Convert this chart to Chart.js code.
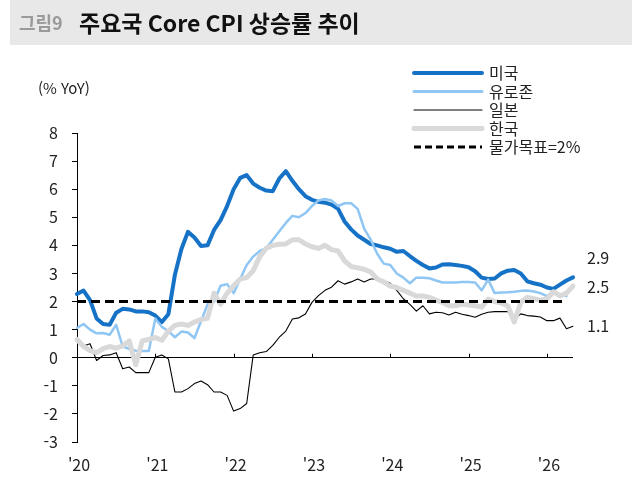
<!DOCTYPE html>
<html lang="ko">
<head>
<meta charset="utf-8">
<script src="https://cdn.jsdelivr.net/npm/chart.js@4"></script>
<style>
  body { margin: 0; background: #fff; }
  #wrap { position: relative; width: 632px; height: 481px; }
</style>
</head>
<body>
<div id="wrap"><canvas id="grafico" width="632" height="481"></canvas></div>
<script>
// 월별 Core CPI (% YoY), 2020-01 부터
const anos = [2020, 2021, 2022, 2023, 2024, 2025, 2026];
const rotulosAno = ["'20", "'21", "'22", "'23", "'24", "'25", "'26"];

const eua = [2.27, 2.39, 2.05, 1.4, 1.2, 1.17, 1.6, 1.74, 1.72, 1.65,
             1.65, 1.62, 1.5, 1.27, 1.55, 2.95, 3.87, 4.48, 4.28, 3.98,
             4.0, 4.55, 4.9, 5.4, 6.0, 6.4, 6.5, 6.2, 6.05, 5.95,
             5.93, 6.38, 6.64, 6.3, 6.0, 5.75, 5.62, 5.55, 5.52, 5.45,
             5.3, 4.85, 4.57, 4.35, 4.2, 4.05, 4.0, 3.93, 3.88, 3.77,
             3.8, 3.62, 3.45, 3.3, 3.18, 3.21, 3.32, 3.33, 3.3, 3.27,
             3.22, 3.08, 2.85, 2.8, 2.82, 3.0, 3.1, 3.12, 3.0, 2.72,
             2.65, 2.6, 2.5, 2.45, 2.6, 2.75, 2.86];

const euro = [1.06, 1.2, 1.0, 0.87, 0.88, 0.82, 1.17, 0.4, 0.32, 0.25,
              0.24, 0.24, 1.4, 1.1, 0.95, 0.73, 0.93, 0.9, 0.7, 1.3,
              1.9, 2.0, 2.56, 2.62, 2.3, 2.8, 3.3, 3.6, 3.8, 3.9,
              4.2, 4.5, 4.8, 5.05, 5.0, 5.15, 5.4, 5.6, 5.65, 5.6,
              5.4, 5.5, 5.5, 5.3, 4.6, 4.2, 3.7, 3.35, 3.3, 3.0,
              2.85, 2.65, 2.85, 2.85, 2.83, 2.75, 2.68, 2.68, 2.68, 2.7,
              2.7, 2.68, 2.4, 2.78, 2.3, 2.32, 2.33, 2.35, 2.38, 2.39,
              2.36, 2.3, 2.19, 2.35, 2.25, 2.2];

const japao = [0.6, 0.42, 0.5, -0.1, 0.08, 0.1, 0.18, -0.39, -0.33, -0.53,
               -0.53, -0.53, 0.02, 0.1, -0.04, -1.22, -1.22, -1.1, -0.92, -0.83,
               -0.96, -1.22, -1.22, -1.34, -1.9, -1.81, -1.63, 0.1, 0.18, 0.22,
               0.44, 0.73, 0.95, 1.38, 1.42, 1.56, 1.97, 2.21, 2.4, 2.51,
               2.74, 2.62, 2.7, 2.8, 2.7, 2.8, 2.8, 2.75, 2.65, 2.4,
               2.1, 1.9, 1.66, 1.85, 1.56, 1.62, 1.6, 1.52, 1.62, 1.55,
               1.5, 1.44, 1.55, 1.62, 1.64, 1.64, 1.64, 1.38, 1.56, 1.5,
               1.48, 1.45, 1.32, 1.32, 1.41, 1.03, 1.12];

const coreia = [0.65, 0.4, 0.25, 0.18, 0.32, 0.4, 0.34, 0.42, 0.6, -0.25,
                0.6, 0.65, 0.72, 0.62, 0.95, 1.15, 1.2, 1.15, 1.27, 1.36,
                1.4, 2.3, 1.9, 2.3, 2.56, 2.8, 2.86, 3.1, 3.6, 3.9,
                4.0, 4.04, 4.05, 4.2, 4.2, 4.05, 3.95, 3.89, 4.0, 3.85,
                3.8, 3.45, 3.25, 3.2, 3.15, 3.05, 2.8, 2.7, 2.55, 2.5,
                2.4, 2.3, 2.2, 2.2, 2.15, 2.05, 1.97, 1.85, 1.85, 1.9,
                1.88, 1.85, 1.8, 2.09, 2.0, 1.95, 1.85, 1.27, 1.97, 2.15,
                2.1, 2.05, 2.09, 2.35, 2.2, 2.3, 2.55];

const META = 2;            // 물가목표
const fimMeta = 75;        // índice do último mês da linha de meta
const rotulosFim = ['2.9', '2.5', '1.1'];   // eua, coreia, japao

const meses = [];
anos.forEach(a => {
    for (let m = 1; m <= 12; m++) meses.push(a + '-' + String(m).padStart(2, '0'));
});
const labels = meses.slice(0, eua.length);

const FONTE = "'Noto Sans CJK KR', 'Noto Sans', sans-serif";
const AZUL = '#1672c6';
const AZUL_CLARO = '#8fc6f3';
const CINZA = '#d9d9d9';

const legenda = [
    { texto: '미국', cor: AZUL, largura: 4 },
    { texto: '유로존', cor: AZUL_CLARO, largura: 3 },
    { texto: '일본', cor: '#000', largura: 1.2 },
    { texto: '한국', cor: CINZA, largura: 5 },
    { texto: '물가목표=2%', cor: '#000', largura: 3, tracejado: [7, 4] }
];

// título, unidade e legenda
const pluginMoldura = {
    id: 'moldura',
    beforeDraw(chart) {
        const ctx = chart.ctx;
        ctx.save();
        ctx.fillStyle = '#e8e8e8';
        ctx.fillRect(10, 0, 622, 45);
        ctx.textBaseline = 'middle';
        ctx.fillStyle = '#9a9a9a';
        ctx.font = 'bold 18px ' + FONTE;
        ctx.fillText('그림9', 19, 23);
        ctx.fillStyle = '#111';
        ctx.font = 'bold 23px ' + FONTE;
        ctx.fillText('주요국 Core CPI 상승률 추이', 79, 23);

        ctx.fillStyle = '#222';
        ctx.font = '15px ' + FONTE;
        ctx.fillText('(% YoY)', 38, 88);

        legenda.forEach((item, i) => {
            const y = 73 + i * 18.5;
            ctx.beginPath();
            ctx.lineWidth = item.largura;
            ctx.strokeStyle = item.cor;
            ctx.lineCap = item.tracejado ? 'butt' : 'round';
            ctx.setLineDash(item.tracejado || []);
            ctx.moveTo(414, y);
            ctx.lineTo(482, y);
            ctx.stroke();
            ctx.setLineDash([]);
            ctx.fillStyle = '#222';
            ctx.font = '16px ' + FONTE;
            ctx.fillText(item.texto, 489, y);
        });
        ctx.restore();
    },
    beforeDatasetsDraw(chart) {
        // marcas dos anos sobre a linha do zero
        const ctx = chart.ctx;
        const x = chart.scales.x, y = chart.scales.y;
        const y0 = y.getPixelForValue(0);
        ctx.save();
        ctx.strokeStyle = '#000';
        ctx.lineWidth = 1;
        for (let i = 12; i < labels.length; i += 12) {
            const px = Math.round(x.getPixelForValue(i)) + 0.5;
            ctx.beginPath();
            ctx.moveTo(px, y0);
            ctx.lineTo(px, y0 - 4);
            ctx.stroke();
        }
        ctx.restore();
    },
    afterDatasetsDraw(chart) {
        // valores finais à direita
        const ctx = chart.ctx;
        const x = chart.chartArea.right + 14;
        const y = chart.scales.y;
        const series = [eua, coreia, japao];
        const desloc = [-19, 1, 0];
        ctx.save();
        ctx.fillStyle = '#222';
        ctx.font = '16px ' + FONTE;
        ctx.textBaseline = 'middle';
        series.forEach((s, i) => {
            const py = y.getPixelForValue(s[s.length - 1]) + desloc[i];
            ctx.fillText(rotulosFim[i], x, py);
        });
        ctx.restore();
    }
};

const linha = (label, data, cor, largura, ordem) => ({
    label, data,
    borderColor: cor,
    borderWidth: largura,
    pointRadius: 0,
    tension: 0,
    borderJoinStyle: 'round',
    borderCapStyle: 'round',
    fill: false,
    order: ordem
});

new Chart(document.getElementById('grafico'), {
    type: 'line',
    data: {
        labels: labels,
        datasets: [
            linha('미국', eua, AZUL, 4, 5),
            linha('유로존', euro, AZUL_CLARO, 2.5, 4),
            linha('일본', japao, '#000', 1.1, 3),
            linha('한국', coreia, CINZA, 5, 2),
            {
                label: '물가목표=2%',
                data: [{ x: labels[0], y: META }, { x: labels[fimMeta], y: META }],
                borderColor: '#000',
                borderWidth: 3,
                borderDash: [9, 5],
                pointRadius: 0,
                fill: false,
                order: 1
            }
        ]
    },
    options: {
        responsive: false,
        animation: false,
        layout: { padding: { left: 32, right: 59, top: 133, bottom: 9 } },
        plugins: { legend: { display: false }, tooltip: { enabled: false } },
        scales: {
            x: {
                afterFit: s => { s.height = 30; },
                grid: { display: false, drawTicks: false },
                border: { display: false },
                ticks: {
                    autoSkip: false,
                    maxRotation: 0,
                    padding: 13,
                    labelOffset: 2,
                    color: '#222',
                    font: { family: FONTE, size: 16 },
                    callback: (v, i) => (i % 12 === 0 ? rotulosAno[i / 12] : '')
                }
            },
            y: {
                min: -3,
                max: 8,
                afterFit: s => { s.width = 45; },
                ticks: {
                    stepSize: 1,
                    padding: 14,
                    color: '#222',
                    font: { family: FONTE, size: 16 }
                },
                grid: {
                    drawTicks: true,
                    tickLength: 5,
                    tickColor: '#000',
                    color: c => (c.tick && c.tick.value === 0 ? '#000' : 'rgba(0,0,0,0)')
                },
                border: { display: true, color: '#000', width: 1 }
            }
        }
    },
    plugins: [pluginMoldura]
});
</script>
</body>
</html>
